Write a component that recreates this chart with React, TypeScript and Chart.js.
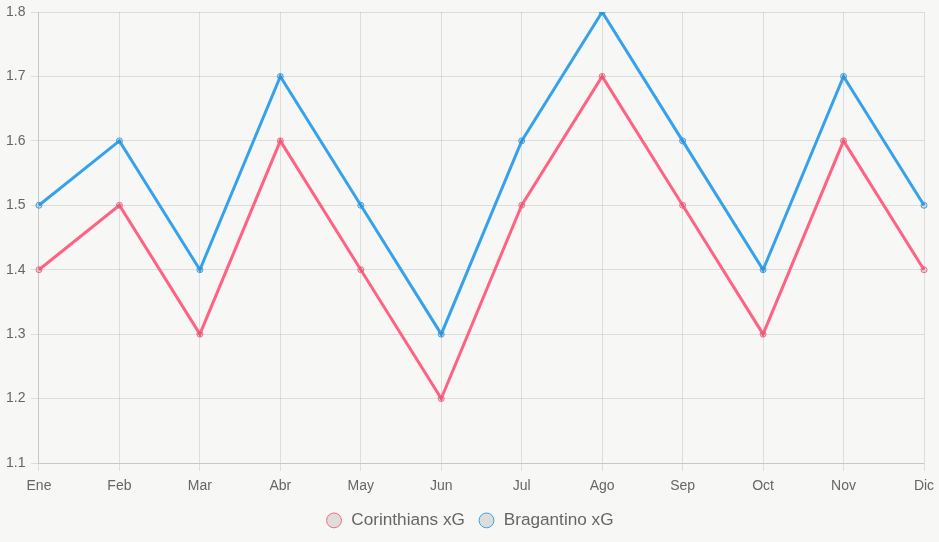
import React, { useEffect, useRef } from "react";
import { Chart, registerables } from "chart.js";

Chart.register(...registerables);

const months = ["Ene", "Feb", "Mar", "Abr", "May", "Jun", "Jul", "Ago", "Sep", "Oct", "Nov", "Dic"];
const corinthiansXG = [1.4, 1.5, 1.3, 1.6, 1.4, 1.2, 1.5, 1.7, 1.5, 1.3, 1.6, 1.4];
const bragantinoXG = [1.5, 1.6, 1.4, 1.7, 1.5, 1.3, 1.6, 1.8, 1.6, 1.4, 1.7, 1.5];

export default function App() {
  const ref = useRef<HTMLCanvasElement | null>(null);
  useEffect(() => {
    document.body.style.margin = "0";
    document.body.style.background = "#f7f7f5";
    Chart.defaults.font.family = "Arial, 'Liberation Sans', Helvetica, sans-serif";
    const chart = new Chart(ref.current!, {
      type: "line",
      data: {
        labels: months,
        datasets: [
          {
            label: "Corinthians xG",
            data: corinthiansXG,
            borderColor: "#ff6384",
            borderWidth: 3,
            pointRadius: 3,
            pointBorderWidth: 1,
            tension: 0,
          },
          {
            label: "Bragantino xG",
            data: bragantinoXG,
            borderColor: "#36a2eb",
            borderWidth: 3,
            pointRadius: 3,
            pointBorderWidth: 1,
            tension: 0,
          },
        ],
      },
      options: {
        animation: false,
        responsive: true,
        maintainAspectRatio: false,
        layout: { padding: { left: 0, top: 12, right: 0, bottom: 3 } },
        plugins: {
          legend: {
            position: "bottom",
            labels: {
              usePointStyle: true,
              color: "#666",
              font: { size: 17.2 },
              padding: 13,
              boxHeight: 10.5,
            },
          },
          tooltip: { enabled: false },
        },
        scales: {
          x: {
            ticks: { color: "#666", font: { size: 14 }, padding: 7 },
            grid: { color: "rgba(0,0,0,0.1)" },
            afterFit: (scale: any) => {
              scale.height = scale.height - 3;
              scale.paddingRight = 15;
            },
          },
          y: {
            min: 1.1,
            max: 1.8,
            ticks: {
              color: "#666",
              font: { size: 14 },
              stepSize: 0.1,
              padding: 5.5,
              callback: (v: any) => Number(v).toFixed(1),
            },
            grid: { color: "rgba(0,0,0,0.1)" },
            afterFit: (scale: any) => {
              scale.width = scale.width + 0.5;
              scale.paddingTop = 11;
            },
          },
        },
      },
    });
    return () => chart.destroy();
  }, []);
  return (
    <div style={{ width: 939, height: 542, position: "relative" }}>
      <canvas ref={ref} />
    </div>
  );
}
